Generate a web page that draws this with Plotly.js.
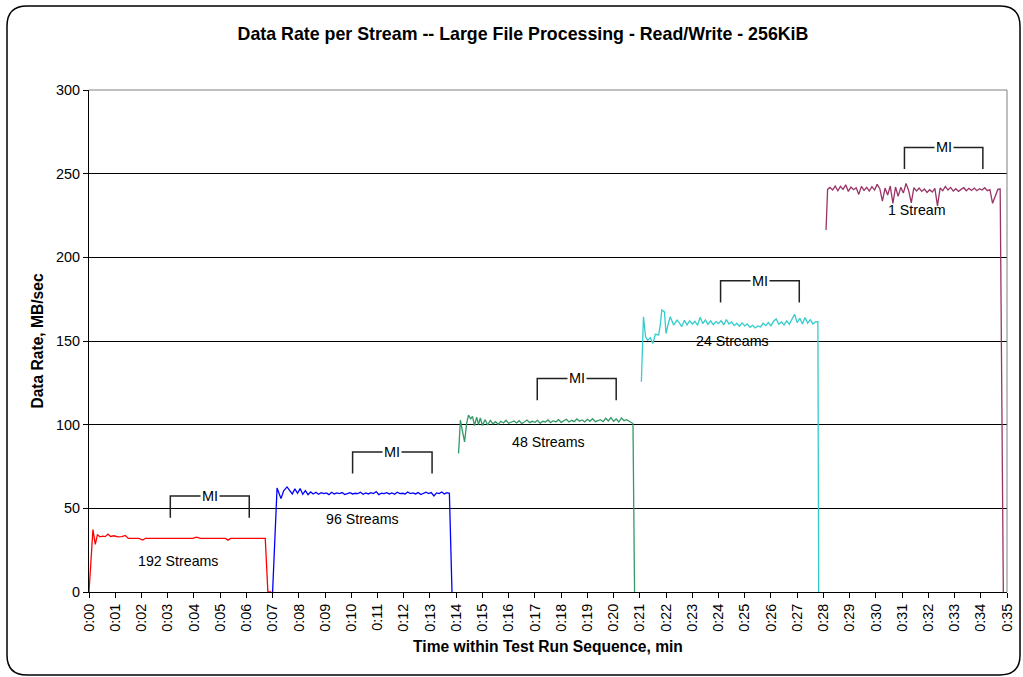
<!DOCTYPE html>
<html>
<head>
<meta charset="utf-8">
<script src="https://cdn.plot.ly/plotly-3.0.1.min.js"></script>
<style>html,body{margin:0;padding:0;background:#fff;}#chart{width:1023px;height:677px;}</style>
</head>
<body>
<div id="chart"></div>
<script>
// ---- Data (time in minutes, data rate in MB/sec) ----
const tickMinutes = [0,1,2,3,4,5,6,7,8,9,10,11,12,13,14,15,16,17,18,19,20,21,22,23,24,25,26,27,28,29,30,31,32,33,34,35];
const tickLabels = ["0:00","0:01","0:02","0:03","0:04","0:05","0:06","0:07","0:08","0:09","0:10","0:11","0:12","0:13","0:14","0:15","0:16","0:17","0:18","0:19","0:20","0:21","0:22","0:23","0:24","0:25","0:26","0:27","0:28","0:29","0:30","0:31","0:32","0:33","0:34","0:35"];

const redT = [0.00,0.15,0.24,0.32,0.42,0.52,0.62,0.72,0.82,0.95,1.10,1.25,1.38,1.50,1.70,1.90,2.05,2.15,2.30,2.60,3.00,3.50,3.95,4.10,4.25,4.60,5.00,5.20,5.30,5.40,5.80,6.20,6.50,6.72,6.82,6.95];
const redV = [0,37.3,28.5,34.2,33.0,33.4,33.1,34.6,33.2,33.6,33.0,33.1,33.8,32.0,32.0,32.0,31.0,32.1,32.0,32.0,32.0,32.0,32.0,32.8,32.0,32.0,32.0,32.0,31.0,32.0,32.0,32.0,32.0,32.0,0,0];

const blueT = [7.00,7.17,7.32,7.42,7.55,7.65,7.75,7.85,7.95,8.05,8.15,8.25,8.35,8.45,8.55,8.65,8.75,8.85,8.95,9.05,9.15,9.25,9.35,9.45,9.55,9.65,9.75,9.85,9.95,10.05,10.15,10.25,10.35,10.45,10.55,10.65,10.75,10.85,10.95,11.05,11.15,11.25,11.35,11.45,11.55,11.65,11.75,11.85,11.95,12.05,12.15,12.25,12.35,12.45,12.55,12.65,12.75,12.85,12.95,13.05,13.15,13.25,13.35,13.45,13.55,13.65,13.74,13.84];
const blueV = [0,62.2,55.8,60.5,62.8,61.0,58.6,61.6,59.0,61.8,58.4,60.6,58.2,59.8,58.6,59.6,58.4,59.4,58.8,59.2,58.2,59.6,58.6,59.2,58.8,59.4,58.2,58.8,59.4,58.6,59.0,58.8,59.6,58.4,59.2,58.6,59.4,58.8,60.0,58.2,59.0,58.8,59.4,58.6,59.2,58.4,59.6,58.8,59.0,58.6,59.8,58.8,59.2,58.6,59.4,58.2,59.0,59.6,58.8,59.4,57.4,59.2,58.8,59.8,58.6,59.4,59.0,0];

const greenT = [14.09,14.16,14.24,14.32,14.40,14.47,14.55,14.62,14.70,14.78,14.85,14.92,15.00,15.10,15.20,15.30,15.40,15.50,15.60,15.70,15.80,15.90,16.00,16.10,16.20,16.30,16.40,16.50,16.60,16.70,16.80,16.90,17.00,17.10,17.20,17.30,17.40,17.50,17.60,17.70,17.80,17.90,18.00,18.10,18.20,18.30,18.40,18.50,18.60,18.70,18.80,18.90,19.00,19.10,19.20,19.30,19.40,19.50,19.60,19.70,19.80,19.90,20.00,20.10,20.20,20.30,20.40,20.50,20.60,20.68,20.74,20.80];
const greenV = [82.8,102.7,96.0,89.7,101.0,105.7,103.5,105.0,99.5,104.5,100.0,104.0,99.5,103.0,99.8,102.5,100.5,101.8,100.2,102.0,101.0,102.6,100.8,101.4,102.2,101.0,102.4,100.6,101.8,102.8,101.2,102.0,101.4,102.6,100.8,102.0,101.6,102.8,101.2,102.4,101.6,103.0,101.4,102.2,103.2,101.6,102.6,101.8,103.4,102.0,102.8,101.6,103.2,102.0,103.6,101.8,102.6,103.0,101.8,103.8,102.2,104.2,102.0,103.4,101.6,104.0,102.4,103.0,102.0,101.4,100.7,0];

const cyanT = [21.06,21.14,21.22,21.30,21.40,21.50,21.59,21.72,21.78,21.84,21.94,22.00,22.08,22.16,22.29,22.42,22.50,22.60,22.70,22.80,22.90,23.00,23.10,23.20,23.30,23.40,23.50,23.60,23.70,23.80,23.90,24.00,24.10,24.20,24.30,24.40,24.50,24.60,24.70,24.80,24.90,25.00,25.10,25.20,25.30,25.40,25.50,25.60,25.70,25.80,25.90,26.00,26.10,26.20,26.30,26.40,26.50,26.60,26.70,26.80,26.90,27.00,27.10,27.20,27.30,27.40,27.50,27.60,27.70,27.79,27.82];
const cyanV = [125.6,164.5,152.5,150.5,151.9,148.5,154.0,153.6,159.5,168.5,167.4,154.5,160.0,164.5,159.5,162.5,161.0,158.6,162.4,159.6,162.0,160.2,161.8,159.4,164.2,160.4,162.6,160.0,162.0,159.8,161.6,160.4,162.2,159.6,162.8,160.2,161.4,159.2,160.6,158.8,160.8,159.0,160.2,158.2,159.4,157.8,159.0,158.4,160.6,159.2,161.0,159.0,161.8,163.2,160.0,161.4,159.6,162.0,160.0,163.2,166.0,161.0,163.6,160.2,164.0,160.6,162.8,160.2,161.4,161.5,0];

const purpleT = [28.10,28.16,28.25,28.35,28.45,28.55,28.65,28.75,28.85,28.95,29.05,29.15,29.25,29.35,29.45,29.55,29.65,29.75,29.85,29.95,30.05,30.15,30.25,30.35,30.45,30.55,30.65,30.75,30.85,30.95,31.05,31.15,31.25,31.35,31.45,31.55,31.65,31.75,31.85,31.95,32.05,32.15,32.25,32.35,32.45,32.55,32.65,32.75,32.85,32.95,33.05,33.15,33.25,33.35,33.45,33.55,33.65,33.75,33.85,33.95,34.05,34.15,34.25,34.35,34.45,34.55,34.65,34.74,34.86];
const purpleV = [216.3,240.6,241.8,240.2,242.6,239.8,242.4,240.6,243.4,239.4,242.0,240.4,241.6,237.6,242.4,240.0,241.8,239.6,242.2,240.2,243.6,241.0,233.6,241.4,237.2,242.6,232.3,242.0,236.4,241.8,238.4,244.2,240.0,232.6,241.6,239.6,241.4,239.4,240.8,238.8,240.4,239.0,241.2,230.7,241.4,239.8,242.4,240.2,241.8,239.6,241.0,239.4,240.6,241.6,239.8,241.2,240.0,241.4,239.8,241.0,240.2,241.6,239.8,240.4,232.3,236.0,240.6,240.8,0];

const streamLabels = ["192 Streams","96 Streams","48 Streams","24 Streams","1 Stream"];
const streamLabelX = [3.41,10.44,17.50,24.53,31.55];
const streamLabelY = [18.3,43.9,89.7,149.9,228.0];

const miStart = [3.10,10.05,17.09,24.08,31.09];
const miEnd = [6.11,13.08,20.10,27.08,34.08];
const miTop = [57.4,83.7,127.6,186.0,265.7];
const miBottom = [44.3,70.8,114.6,173.0,252.8];

// ---- Styles ----
const F = 'Liberation Sans, Arial, sans-serif';
const seriesList = [
  {t: redT, v: redV, color: '#FF0000'},
  {t: blueT, v: blueV, color: '#0000FF'},
  {t: greenT, v: greenV, color: '#339966'},
  {t: cyanT, v: cyanV, color: '#33CCCC'},
  {t: purpleT, v: purpleV, color: '#993366'}
];
const traces = seriesList.map((s, i) => ({
  type: 'scatter', mode: 'lines', x: s.t, y: s.v,
  line: {color: s.color, width: 1.3}, name: streamLabels[i], showlegend: false, hoverinfo: 'x+y'
}));

// plot area pixel geometry -> paper coords for decoration
const L = 89, R = 1007, T = 90, B = 592;
const px = x => (x - L) / (R - L);
const py = y => (B - y) / (B - T);
function roundedRect(x0, y0, x1, y1, r) {
  return `M ${px(x0 + r)},${py(y0)} L ${px(x1 - r)},${py(y0)} Q ${px(x1)},${py(y0)} ${px(x1)},${py(y0 + r)} ` +
         `L ${px(x1)},${py(y1 - r)} Q ${px(x1)},${py(y1)} ${px(x1 - r)},${py(y1)} ` +
         `L ${px(x0 + r)},${py(y1)} Q ${px(x0)},${py(y1)} ${px(x0)},${py(y1 - r)} ` +
         `L ${px(x0)},${py(y0 + r)} Q ${px(x0)},${py(y0)} ${px(x0 + r)},${py(y0)} Z`;
}

const shapes = [
  {type: 'path', xref: 'paper', yref: 'paper', path: roundedRect(7, 6, 1020, 675, 20), line: {color: '#000', width: 1.5}, layer: 'above'},
  {type: 'line', xref: 'paper', yref: 'paper', x0: 0, x1: 1, y0: 1, y1: 1, line: {color: '#808080', width: 1}, layer: 'above'},
  {type: 'line', xref: 'paper', yref: 'paper', x0: 1, x1: 1, y0: 0, y1: 1, line: {color: '#808080', width: 1}, layer: 'above'}
];
const annotations = [];
for (let i = 0; i < miStart.length; i++) {
  shapes.push({
    type: 'path', xref: 'x', yref: 'y', layer: 'above',
    path: `M ${miStart[i]},${miBottom[i]} L ${miStart[i]},${miTop[i]} L ${miEnd[i]},${miTop[i]} L ${miEnd[i]},${miBottom[i]}`,
    line: {color: '#222', width: 1.5}
  });
  annotations.push({
    x: (miStart[i] + miEnd[i]) / 2, y: miTop[i], xref: 'x', yref: 'y', text: 'MI', showarrow: false,
    xanchor: 'center', yanchor: 'middle', bgcolor: '#fff', borderpad: 1,
    font: {family: F, size: 14.5, color: '#000'}
  });
  annotations.push({
    x: streamLabelX[i], y: streamLabelY[i], xref: 'x', yref: 'y', text: streamLabels[i], showarrow: false,
    xanchor: 'center', yanchor: 'middle', font: {family: F, size: 14.2, color: '#000'}
  });
}

const layout = {
  width: 1023, height: 677,
  paper_bgcolor: '#fff', plot_bgcolor: '#fff',
  margin: {l: L, r: 1023 - R, t: T, b: 677 - B, pad: 0},
  font: {family: F, size: 14, color: '#000'},
  title: {
    text: 'Data Rate per Stream -- Large File Processing - Read/Write - 256KiB',
    font: {family: F, size: 17.8, color: '#000', weight: 'bold'},
    xref: 'container', yref: 'container', x: 523 / 1023, xanchor: 'center', y: 1 - 34 / 677, yanchor: 'middle'
  },
  xaxis: {
    range: [0, 35], tickmode: 'array', tickvals: tickMinutes, ticktext: tickLabels,
    tickangle: -90, ticks: 'outside', ticklen: 5, tickcolor: '#000', tickwidth: 1,
    showline: true, linecolor: '#000', linewidth: 1, showgrid: false, zeroline: false,
    tickfont: {family: F, size: 14.4, color: '#000'},
    title: {text: 'Time within Test Run Sequence, min', font: {family: F, size: 15.6, color: '#000', weight: 'bold'}, standoff: 10},
    automargin: false, fixedrange: true
  },
  yaxis: {
    range: [0, 300], tickmode: 'array', tickvals: [0, 50, 100, 150, 200, 250, 300],
    ticks: 'outside', ticklen: 5, tickcolor: '#000', tickwidth: 1,
    showline: true, linecolor: '#000', linewidth: 1, showgrid: true, gridcolor: '#000', gridwidth: 1, zeroline: false,
    tickfont: {family: F, size: 14.4, color: '#000'},
    title: {text: 'Data Rate, MB/sec', font: {family: F, size: 15.6, color: '#000', weight: 'bold'}, standoff: 8},
    automargin: false, fixedrange: true
  },
  shapes: shapes,
  annotations: annotations,
  showlegend: false
};

Plotly.newPlot('chart', traces, layout, {displayModeBar: false, staticPlot: true});
</script>
</body>
</html>
